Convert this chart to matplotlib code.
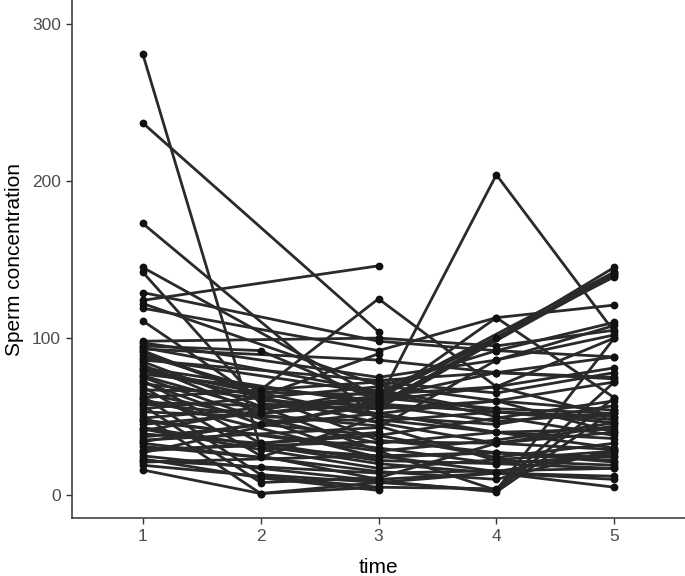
import numpy as np
import matplotlib
matplotlib.use("Agg")
import matplotlib.pyplot as plt
from matplotlib import font_manager

nan = np.nan
times = [1, 2, 3, 4, 5]
time_labels = ["1", "2", "3", "4", "5"]
y_ticks = [0, 100, 200, 300]

# Sperm concentration per subject at each time point (NaN = missing visit)
conc_t1 = [281, 237, 173, 145, 142, 129, 124, 122, 119, 111, 98, 97, 95, 93, 91, 89, 87, 85, 83, 81,
           79, 77, 75, 73, 71, 69, 67, 65, 63, 61, 59, 57, 55, 53, 51, 49, 47, 45, 43, 41,
           39, 37, 35, 33, 31, 29, 27, 25, 23, 21, 19, 16, 92, 86, 76,
           94, 80, 72, 62, 58, 48, 42, 34, 28, 22]
conc_t2 = [30, nan, nan, nan, 58, nan, nan, nan, nan, 60, nan, nan, 92, nan, nan, 67, nan, nan, 52, nan,
           nan, nan, nan, 33, nan, 25, nan, nan, 13, nan, nan, 8, nan, nan, 1, nan, nan, 52, nan, nan,
           33, nan, nan, nan, 24, nan, nan, nan, 11, nan, nan, 1, 63, nan, 55,
           nan, nan, 45, nan, nan, nan, 29, nan, nan, 18]
conc_t3 = [25, 104, 48, 62, 55, 98, 146, 70, 92, 57, 100, 75, 60, 86, 35, 125, 65, 28, 62, 58,
           46, 60, 22, 40, 52, 10, 64, 33, 8, 24, 55, 11, 69, 47, 5, 62, 30, 58, 20, 67,
           22, 52, 43, 15, 50, 34, 60, 9, 3, 25, 5, 8, 90, 73, 63,
           66, 50, 38, 72, 44, 28, 17, 57, 38, 14]
conc_t4 = [15, nan, 40, 55, nan, 92, nan, 60, 113, nan, 95, 86, 204, 78, 27, 69, 100, 3, nan, 53,
           33, 113, 20, nan, 60, 14, 69, 40, 3, 27, 60, 33, 92, 53, nan, 78, 20, nan, 14, 53,
           nan, 40, 86, 10, nan, 33, 69, 2, nan, 27, 4, 14, nan, 78, nan,
           50, 45, nan, 65, 22, 35, nan, 47, 24, nan]
conc_t5 = [27, nan, 30, 52, 142, 88, nan, 40, 121, 140, 105, 108, 104, 75, 21, 50, 145, 62, 139, 46,
           29, 62, 17, nan, 54, 10, 81, 36, 100, 24, 72, 44, 110, 50, nan, 74, 25, 141, 5, 48,
           nan, 42, 102, 29, nan, 40, 100, 54, nan, 22, 72, 12, nan, 88, 142,
           38, 57, 60, 78, 19, 46, 28, 52, 33, 17]

available = {f.name for f in font_manager.fontManager.ttflist}
fams = [f for f in ["Liberation Sans Narrow", "Liberation Sans", "DejaVu Sans"] if f in available]
plt.rcParams["font.family"] = fams

fig = plt.figure(figsize=(6.85, 5.76), dpi=100)
ax = fig.add_axes([72 / 685, 58 / 576, 1 - 72 / 685, 1 - 58 / 576])

data = np.array([conc_t1, conc_t2, conc_t3, conc_t4, conc_t5], dtype=float).T
t = np.array(times, dtype=float)
line_color = "#2a2a2a"
for row in data:
    m = ~np.isnan(row)
    ax.plot(t[m], row[m], color=line_color, lw=2.0, solid_capstyle="butt", zorder=2)
    ax.plot(t[m], row[m], linestyle="none", marker="o", ms=4.6, color="#111111", zorder=3)

ax.set_xlim(0.4, 5.6)
ax.set_ylim(-14.6, 315.3)
ax.set_xticks(times)
ax.set_xticklabels(time_labels)
ax.set_yticks(y_ticks)

for side in ["top", "right"]:
    ax.spines[side].set_visible(False)
for side in ["left", "bottom"]:
    ax.spines[side].set_color("#333333")
    ax.spines[side].set_linewidth(1.1)

ax.tick_params(axis="both", colors="#333333", length=4, width=1.0, labelsize=12.5,
               labelcolor="#4d4d4d", pad=4)
ax.set_xlabel("time", fontsize=15, color="black", labelpad=10)
ax.set_ylabel("Sperm concentration", fontsize=15, color="black", labelpad=6)
ax.set_facecolor("white")

fig.savefig("out.png", dpi=100, facecolor="white")
